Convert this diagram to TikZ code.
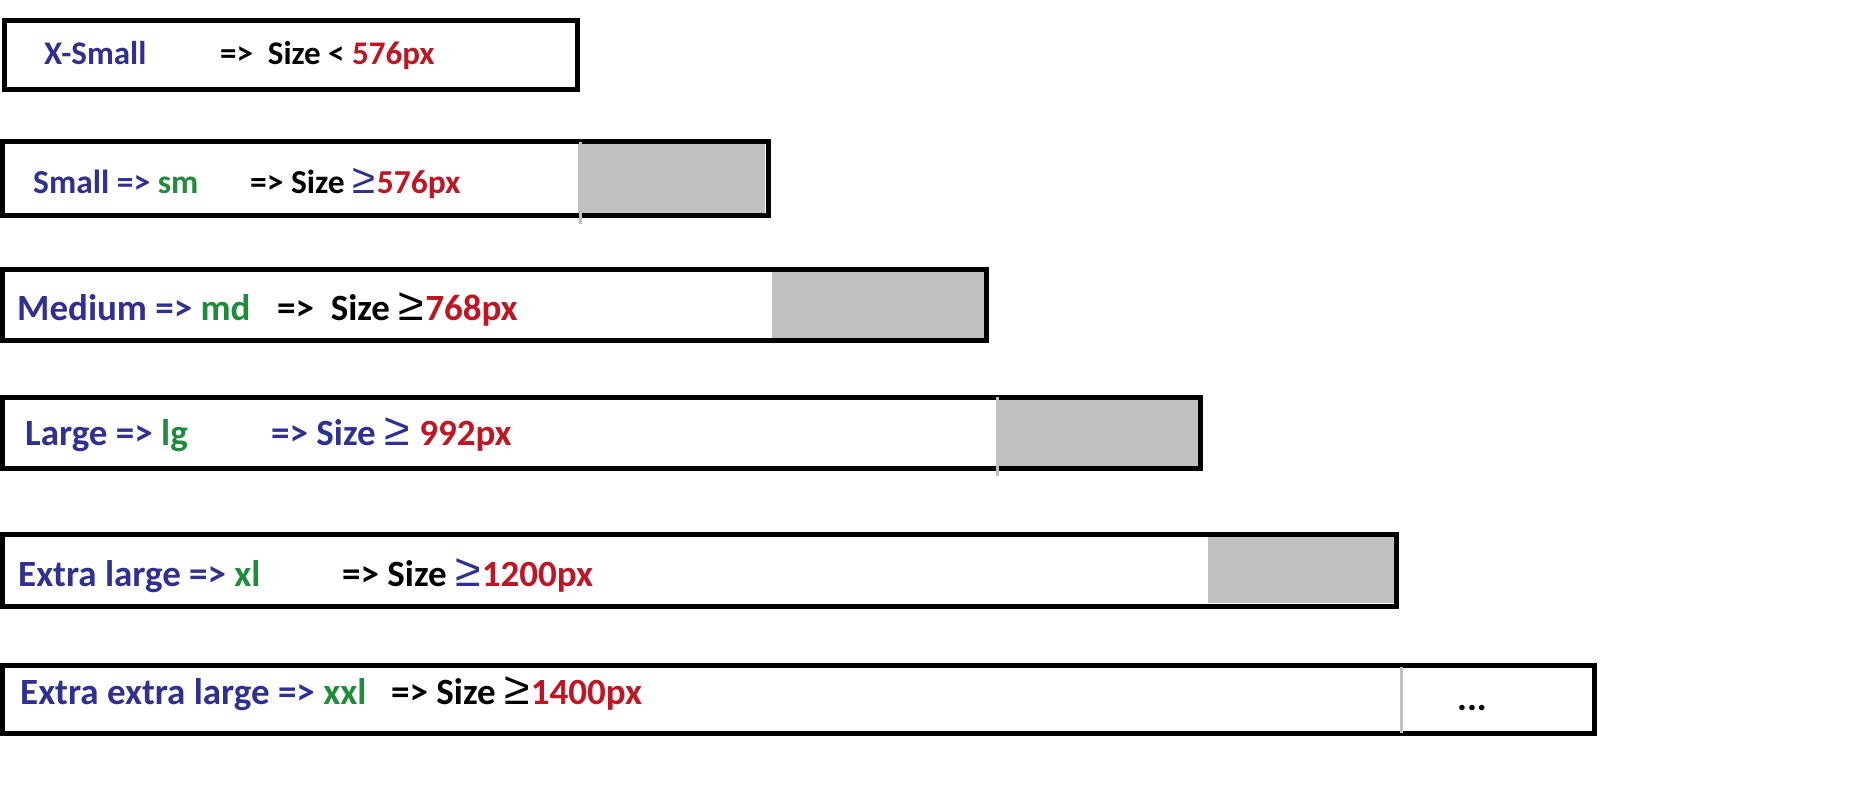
\documentclass[tikz,border=0pt]{standalone}
\usepackage{fontspec}
\setmainfont{Carlito}
\newfontfamily\geqfont{Liberation Sans}
\definecolor{tblue}{RGB}{46,49,146}
\definecolor{tgreen}{RGB}{30,140,60}
\definecolor{tred}{RGB}{190,22,34}
\definecolor{tgrey}{RGB}{192,192,192}
\newcommand\gq{{\mdseries\geqfont\scalebox{1.25}{≥}}\hspace{1.5pt}}
\tikzset{
  frame/.style={draw=black,line width=5pt},
  greyfill/.style={fill=tgrey},
  greyline/.style={draw=tgrey,line width=3pt},
  lbl/.style={anchor=base west,inner sep=0pt,font=\bfseries\fontsize{37}{41}\selectfont},
  lblsm/.style={lbl,font=\bfseries\fontsize{33}{37}\selectfont},
  lblmd/.style={lbl,font=\bfseries\fontsize{33.5}{37}\selectfont},
}
\begin{document}
\begin{tikzpicture}[x=1pt,y=-1pt]
\useasboundingbox (0,0) rectangle (1858,786);
% grey areas
\fill[greyfill] (578,144) rectangle (765,213);
\fill[greyfill] (772,272) rectangle (984,338);
\fill[greyfill] (996,400) rectangle (1198,466);
\fill[greyfill] (1208,536) rectangle (1394,603);
% frames
\draw[frame] (4.5,20.5) rectangle (577.5,89.5);
\draw[frame] (2.5,141.5) rectangle (768.5,215.5);
\draw[frame] (2.5,269.5) rectangle (986.5,340.5);
\draw[frame] (2.5,397.5) rectangle (1200.5,468.5);
\draw[frame] (2.5,534.5) rectangle (1396.5,606.5);
\draw[frame] (2.5,665.5) rectangle (1594.5,733.5);
% light grey separator lines
\draw[greyline] (580,142) -- (580,224);
\draw[greyline] (997,397) -- (997,476);
\draw[greyline] (1401,667) -- (1401,733);
% texts
\node[lblsm] (r1a) at (44,65) {\color{tblue}X-Small};
\node[lblsm] (r1b) at (220,65) {=>\ \ Size < \color{tred}576px};
\node[lblmd] (r2a) at (33,194) {\color{tblue}Small => \color{tgreen}sm};
\node[lblmd] (r2b) at (250,194) {=> Size \color{tblue}\gq\color{tred}576px};
\node[lbl] (r3a) at (17,320) {\color{tblue}Medium => \color{tgreen}md};
\node[lbl] (r3b) at (277,320) {=>\ \ Size \gq\color{tred}768px};
\node[lbl] (r4a) at (25,445) {\color{tblue}Large => \color{tgreen}lg};
\node[lbl] (r4b) at (271,445) {\color{tblue}=> Size \gq\ \color{tred}992px};
\node[lbl] (r5a) at (18,586) {\color{tblue}Extra large => \color{tgreen}xl};
\node[lbl] (r5b) at (342,586) {=> Size \color{tblue}\gq\color{tred}1200px};
\node[lbl] (r6a) at (20,704) {\color{tblue}Extra extra large => \color{tgreen}xxl};
\node[lbl] (r6b) at (391,704) {=> Size \gq\color{tred}1400px};
\node[lbl] (r6c) at (1457,710) {...};
\end{tikzpicture}
\end{document}
